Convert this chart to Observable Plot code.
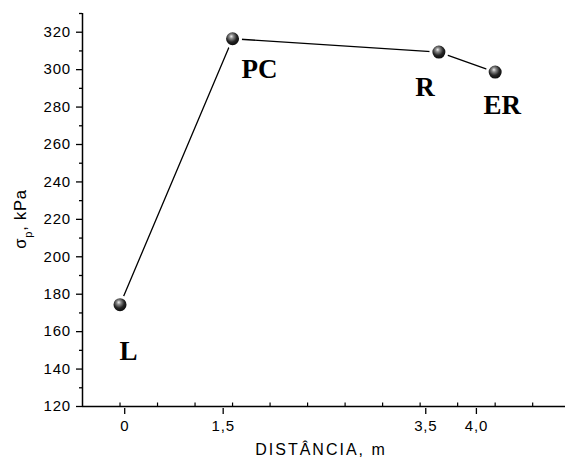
<!DOCTYPE html>
<html>
<head>
<meta charset="utf-8">
<script src="https://cdn.jsdelivr.net/npm/d3@7"></script>
<script src="https://cdn.jsdelivr.net/npm/@observablehq/plot@0.6"></script>
<style>
  html, body { margin: 0; padding: 0; background: #fff; }
  #chart svg { display: block; }
</style>
</head>
<body>
<div id="chart"></div>
<script>
// ---- data ----
const distance = [0, 1.2, 3.4, 4.0];
const sigmaP = [174.4, 316.5, 309.4, 298.7];
const pointLabels = ["L", "PC", "R", "ER"];
const yTickValues = [120, 140, 160, 180, 200, 220, 240, 260, 280, 300, 320];
const yMinorTicks = [130, 150, 170, 190, 210, 230, 250, 270, 290, 310, 330];
const xMinorTicks = [0, 0.4, 0.8, 1.2, 1.6, 2.0, 2.4, 2.8, 3.2, 3.6, 4.0, 4.4];
const xTickAt = [0.05, 1.1, 3.26, 3.8];
const xTickLabels = ["0", "1,5", "3,5", "4,0"];
const xTitle = "DISTÂNCIA, m";
const yTitle = "σp, kPa";

const points = distance.map((d, i) => ({d, s: sigmaP[i], label: pointLabels[i]}));

// label placement (style offsets in px)
const labelOffsets = {L: [8.5, 46.5], PC: [27, 31], R: [-14, 35], ER: [7, 33]};

const labelMarks = points.map(p => Plot.text([p], {
  x: "d", y: "s", text: "label",
  dx: labelOffsets[p.label][0], dy: labelOffsets[p.label][1],
  fontFamily: "Liberation Serif, Times New Roman, serif",
  fontWeight: "bold", fontSize: 27, fill: "black"
}));

const chart = Plot.plot({
  width: 565,
  height: 460,
  marginLeft: 82,
  marginRight: 0,
  marginTop: 13,
  marginBottom: 54,
  style: {fontFamily: "Liberation Sans, Arial, sans-serif", fontSize: "15px", color: "black", background: "white"},
  x: {domain: [-0.4, 4.75]},
  y: {domain: [120, 330]},
  marks: [
    Plot.axisY({ticks: yTickValues, tickSize: 6, tickPadding: 5.5, tickFormat: d => String(d), label: null, fontSize: 15, strokeWidth: 1.3}),
    Plot.axisY({ticks: yMinorTicks, tickSize: 3, tickFormat: () => "", label: null, strokeWidth: 1.3}),
    Plot.axisX({ticks: xMinorTicks, tickSize: -3.5, tickFormat: () => "", label: null, strokeWidth: 1.2}),
    Plot.axisX({ticks: xTickAt, tickSize: 6, tickPadding: 6, dy: 2, tickFormat: d => xTickLabels[xTickAt.indexOf(d)], label: null, fontSize: 15, strokeWidth: 1.3}),
    Plot.ruleY([120], {stroke: "black", strokeWidth: 1.5}),
    Plot.ruleX([-0.4], {stroke: "black", strokeWidth: 1.5}),
    Plot.line(points, {x: "d", y: "s", stroke: "black", strokeWidth: 1.3}),
    Plot.dot(points, {x: "d", y: "s", r: 8, fill: "url(#ballGrad)", stroke: "white", strokeWidth: 3}),
    ...labelMarks,
    Plot.text([xTitle], {frameAnchor: "bottom", dx: -3, dy: 48.5, fontSize: 16, fill: "black"}),
    Plot.text([yTitle], {frameAnchor: "left", textAnchor: "middle", rotate: -90, dx: -62, dy: 9, fontSize: 16.5, fill: "black"})
  ]
});

// gradient for the spherical markers
const svgNS = "http://www.w3.org/2000/svg";
const defs = document.createElementNS(svgNS, "defs");
defs.innerHTML = `
  <radialGradient id="ballGrad" cx="45%" cy="40%" r="60%" fx="42%" fy="35%">
    <stop offset="0%" stop-color="#eeeeee"/>
    <stop offset="22%" stop-color="#8a8a8a"/>
    <stop offset="55%" stop-color="#252525"/>
    <stop offset="100%" stop-color="#000000"/>
  </radialGradient>`;
chart.insertBefore(defs, chart.firstChild);

// widen tick labels slightly, letter spacing on titles, subscript on y title
chart.querySelectorAll("text").forEach(t => {
  const s = t.textContent;
  if (yTickValues.map(String).includes(s) || xTickLabels.includes(s)) t.setAttribute("letter-spacing", "0.8");
  if (s === xTitle) t.setAttribute("letter-spacing", "2");
  if (s === yTitle) {
    t.setAttribute("letter-spacing", "0.8");
    t.textContent = "";
    const a = document.createElementNS(svgNS, "tspan"); a.textContent = "σ";
    const b = document.createElementNS(svgNS, "tspan"); b.textContent = "p";
    b.setAttribute("baseline-shift", "sub"); b.setAttribute("font-size", "11");
    const c = document.createElementNS(svgNS, "tspan"); c.textContent = ", kPa";
    t.append(a, b, c);
  }
});

document.getElementById("chart").appendChild(chart);
</script>
</body>
</html>
